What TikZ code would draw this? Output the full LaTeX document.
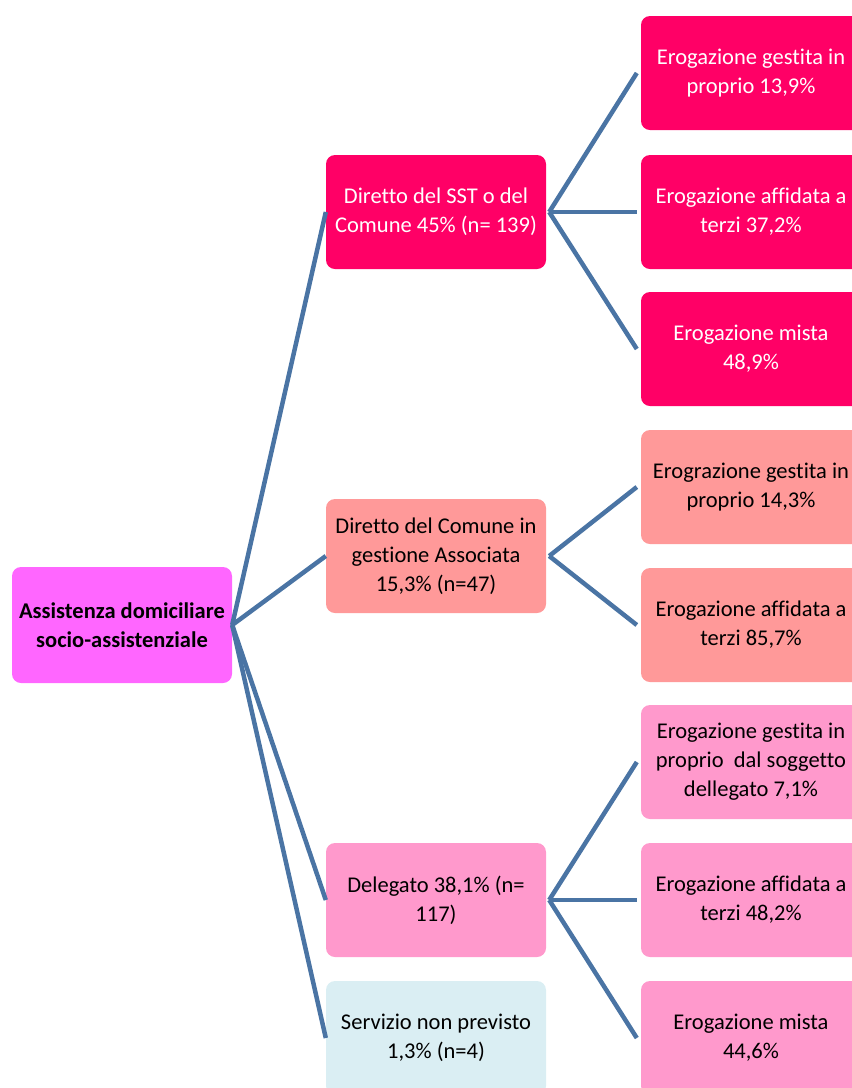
\documentclass[tikz,border=0pt]{standalone}
\usepackage{fontspec}
\setmainfont{Carlito}[Ligatures=NoCommon]
\usetikzlibrary{positioning,calc}
\definecolor{rootpink}{HTML}{FF66FF}
\definecolor{crimson}{HTML}{FF0066}
\definecolor{salmon}{HTML}{FF9999}
\definecolor{softpink}{HTML}{FF99CC}
\definecolor{paleblue}{HTML}{DAEEF3}
\definecolor{linkblue}{HTML}{4A74A4}

\begin{document}
\begin{tikzpicture}[x=1pt, y=-1pt,
    box/.style={rounded corners=9pt, minimum width=220pt, minimum height=114pt,
      align=center, inner sep=0pt, font=\fontsize{22.5}{29}\selectfont},
    link/.style={linkblue, line width=4.5pt}]
  \useasboundingbox (0,0) rectangle (852,1088);
  \clip (0,0) rectangle (852,1088);

  % Root
  \node[box, fill=rootpink, minimum height=116pt,
    font=\fontsize{22.5}{29}\selectfont\bfseries] (root) at (122,625)
    {Assistenza domiciliare\\socio-assistenziale};

  % First level
  \node[box, fill=crimson, text=white] (sst) at (436,212)
    {Diretto del SST o del\\Comune 45\% (n= 139)};
  \node[box, fill=salmon] (assoc) at (436,556)
    {Diretto del Comune in\\gestione Associata\\15,3\% (n=47)};
  \node[box, fill=softpink] (deleg) at (436,900)
    {Delegato 38,1\% (n=\\117)};
  \node[box, fill=paleblue] (nonprev) at (436,1038)
    {Servizio non previsto\\1,3\% (n=4)};

  % Second level
  \node[box, fill=crimson, text=white] (sstA) at (751,73)
    {Erogazione gestita in\\proprio 13,9\%};
  \node[box, fill=crimson, text=white] (sstB) at (751,212)
    {Erogazione affidata a\\terzi 37,2\%};
  \node[box, fill=crimson, text=white] (sstC) at (751,349)
    {Erogazione mista\\48,9\%};
  \node[box, fill=salmon] (assocA) at (751,487)
    {Erograzione gestita in\\proprio 14,3\%};
  \node[box, fill=salmon] (assocB) at (751,625)
    {Erogazione affidata a\\terzi 85,7\%};
  \node[box, fill=softpink] (delegA) at (751,762)
    {Erogazione gestita in\\proprio\ \ dal soggetto\\dellegato 7,1\%};
  \node[box, fill=softpink] (delegB) at (751,900)
    {Erogazione affidata a\\terzi 48,2\%};
  \node[box, fill=softpink] (delegC) at (751,1038)
    {Erogazione mista\\44,6\%};

  % Connectors
  \foreach \n in {sst,assoc,deleg,nonprev}
    \draw[link] (root.east) -- (\n.west);
  \foreach \n in {sstA,sstB,sstC}
    \draw[link] ([xshift=3pt]sst.east) -- ([xshift=-4pt]\n.west);
  \foreach \n in {assocA,assocB}
    \draw[link] ([xshift=3pt]assoc.east) -- ([xshift=-4pt]\n.west);
  \foreach \n in {delegA,delegB,delegC}
    \draw[link] ([xshift=3pt]deleg.east) -- ([xshift=-4pt]\n.west);
\end{tikzpicture}
\end{document}
